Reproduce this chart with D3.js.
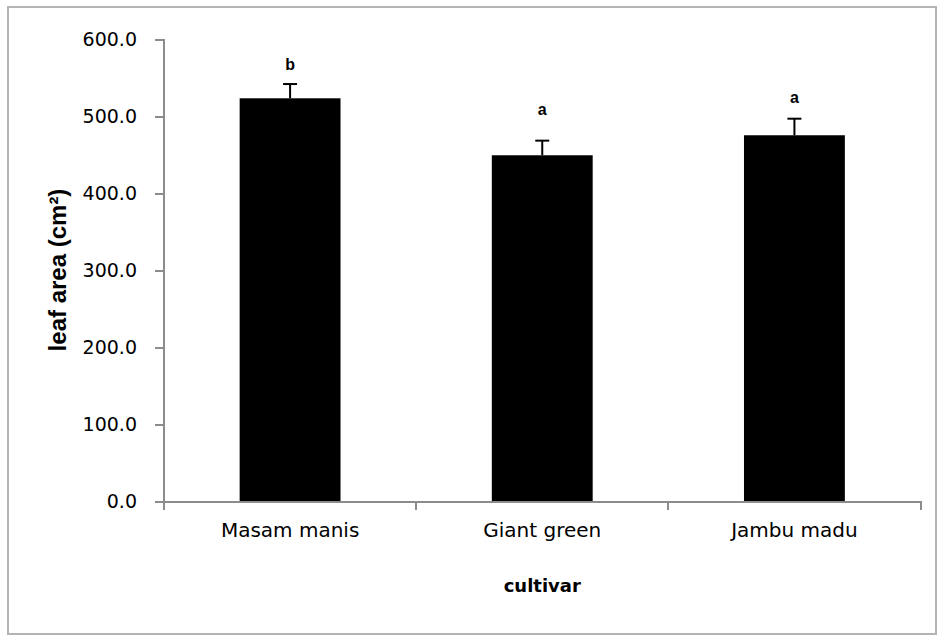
<!DOCTYPE html>
<html>
<head>
<meta charset="utf-8">
<script src="https://cdn.jsdelivr.net/npm/d3@7"></script>
<style>
    body { margin: 0; background: #fff; }
    .axis path, .axis line { stroke: #8c8c8c; stroke-width: 2px; shape-rendering: crispEdges; }
    .axis text { fill: #000; font-family: "DejaVu Sans", sans-serif; }
</style>
</head>
<body>
<div id="chart"></div>
<script>
// data
const cultivars = ["Masam manis", "Giant green", "Jambu madu"];
const leafArea = [523, 449, 475];
const leafAreaErr = [18.5, 19, 21.5];
const letters = ["b", "a", "a"];
// height (in cm²) at which each letter sits
const letterAt = [560, 501, 517];
const yTicks = [0, 100, 200, 300, 400, 500, 600];

class BarChart {
    constructor(element, configs = {}) {
        let defaultConfig = {
            width: 938,
            height: 637,
            margin: {
                top: 39,
                right: 17.5,
                bottom: 136,
                left: 164
            }
        };
        this.config = Object.assign({}, defaultConfig, configs);
        this.container = d3.select(element).append("svg")
            .attr("width", this.config.width)
            .attr("height", this.config.height);
        this.width = this.config.width - this.config.margin.left - this.config.margin.right;
        this.height = this.config.height - this.config.margin.top - this.config.margin.bottom;
        this.data = cultivars.map((c, i) => ({
            x: c,
            y: leafArea[i],
            err: leafAreaErr[i],
            letter: letters[i],
            letterY: letterAt[i]
        }));
        this.draw();
    }

    generateFrame() {
        this.container.append("rect")
            .attr("x", 8)
            .attr("y", 7)
            .attr("width", 928)
            .attr("height", 627)
            .attr("fill", "#fff")
            .attr("stroke", "#b4b4b4")
            .attr("stroke-width", 2);

        this.element = this.container.append("g")
            .attr("transform", "translate(" + this.config.margin.left + "," + this.config.margin.top + ")");
    }

    generateRange() {
        this.xRange = d3.scaleBand().domain(cultivars).range([0, this.width]);
        this.yRange = d3.scaleLinear().domain([0, 600]).range([this.height, 0]);
    }

    generateAxis() {
        let axisY = d3.axisLeft(this.yRange)
            .tickValues(yTicks)
            .tickFormat(d3.format(".1f"))
            .tickSizeInner(9)
            .tickSizeOuter(0)
            .tickPadding(18);

        let yAxis = this.element.append("g")
            .attr("class", "axis axisY")
            .call(axisY);
        yAxis.select(".domain").attr("d", "M0,0V" + (this.height + 9));
        yAxis.selectAll("text").style("font-size", "19px").attr("dy", "0.36em");

        // x axis: ticks sit on the category boundaries
        let axisX = d3.axisBottom(this.xRange)
            .tickSize(0)
            .tickPadding(30);
        let xAxis = this.element.append("g")
            .attr("class", "axis axisX")
            .attr("transform", "translate(0," + this.height + ")")
            .call(axisX);
        xAxis.selectAll("text").style("font-size", "20px").attr("dy", "0.3em");

        let bounds = cultivars.map(c => this.xRange(c)).concat([this.width]);
        xAxis.selectAll(".bound")
            .data(bounds.slice(1))
            .enter()
            .append("line")
            .attr("class", "bound")
            .attr("x1", d => d)
            .attr("x2", d => d)
            .attr("y1", 0)
            .attr("y2", 9);

        this.element.append("text")
            .attr("x", this.width / 2)
            .attr("y", this.height + 91)
            .attr("text-anchor", "middle")
            .style("font-family", "'DejaVu Sans', sans-serif")
            .style("font-weight", "bold")
            .style("font-size", "18px")
            .text("cultivar");

        this.container.append("text")
            .attr("transform", "translate(66," + (this.config.margin.top + this.height / 2) + ") rotate(-90)")
            .attr("text-anchor", "middle")
            .style("font-family", "'Liberation Sans', Arial, sans-serif")
            .style("font-weight", "bold")
            .style("font-size", "24px")
            .text("leaf area (cm²)");
    }

    drawBars() {
        let barW = this.xRange.bandwidth() * 0.4;
        let cx = d => this.xRange(d.x) + this.xRange.bandwidth() / 2;

        let group = this.element.append("g").attr("class", "bars")
            .selectAll(".group")
            .data(this.data)
            .enter()
            .append("g")
            .attr("class", "group");

        group.append("rect")
            .attr("x", d => cx(d) - barW / 2)
            .attr("y", d => this.yRange(d.y))
            .attr("width", barW)
            .attr("height", d => this.height - this.yRange(d.y))
            .attr("fill", "#000");

        group.append("line")
            .attr("x1", cx)
            .attr("x2", cx)
            .attr("y1", d => this.yRange(d.y))
            .attr("y2", d => this.yRange(d.y + d.err))
            .attr("stroke", "#000")
            .attr("stroke-width", 2);

        group.append("line")
            .attr("x1", d => cx(d) - 7)
            .attr("x2", d => cx(d) + 7)
            .attr("y1", d => this.yRange(d.y + d.err))
            .attr("y2", d => this.yRange(d.y + d.err))
            .attr("stroke", "#000")
            .attr("stroke-width", 2);

        group.append("text")
            .attr("x", cx)
            .attr("y", d => this.yRange(d.letterY))
            .attr("text-anchor", "middle")
            .style("font-family", "'Liberation Sans', Arial, sans-serif")
            .style("font-weight", "bold")
            .style("font-size", "16px")
            .text(d => d.letter);
    }

    draw() {
        this.generateFrame();
        this.generateRange();
        this.drawBars();
        this.generateAxis();
    }
}

new BarChart("#chart");
</script>
</body>
</html>
